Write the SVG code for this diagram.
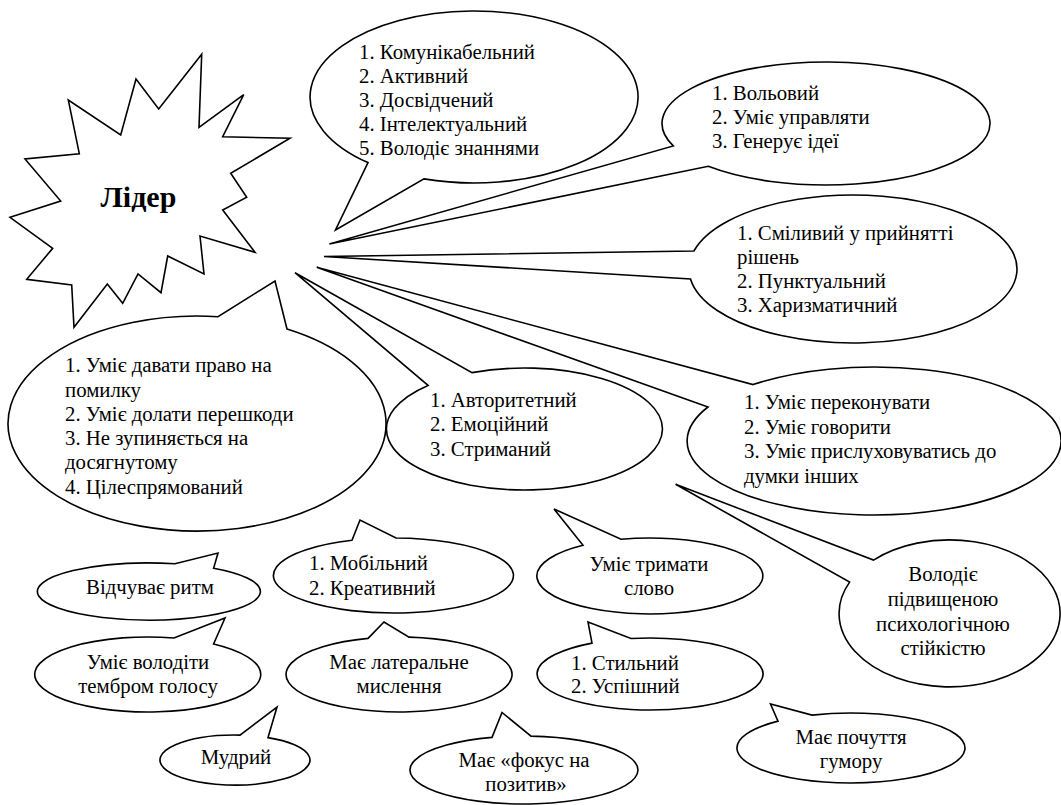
<svg xmlns="http://www.w3.org/2000/svg" width="1061" height="805" viewBox="0 0 1061 805">
<style>
.s{fill:#fff;stroke:#000;stroke-width:1.6;stroke-linejoin:miter}
</style>
<rect width="1061" height="805" fill="#fff"/>
<g id="connectors"></g>
<g id="leader">
<polygon class="s" points="201.7,54.3 199,127.3 243.7,94.7 222.7,136.7 290,138.3 230.7,173.3 246.7,197.3 222.7,210 255,252.3 200,236 204,274 167.7,256 161,292.7 138,274 122.7,303.3 107.3,284 74,327.3 71.7,285 26.7,279.3 52.7,248.3 10,217.3 60.7,201 25,159 79.3,153.7 68.3,100 120.7,135 136,79 158.7,109"/>
<text x="100.5" y="207" font-family="Times New Roman, Liberation Serif, serif" font-size="30" font-weight="bold">Лідер</text>
</g>
<g id="n1" font-family="Times New Roman, Liberation Serif, serif" font-size="20.8">
<path class="s" d="M424,178.9 A164,86 0 1 0 368,162.6 L335.5,230 Z"/>
<text x="359" y="59">1. Комунікабельний</text>
<text x="359" y="83">2. Активний</text>
<text x="359" y="107">3. Досвідчений</text>
<text x="359" y="131">4. Інтелектуальний</text>
<text x="359" y="155">5. Володіє знаннями</text>
</g>
<g id="n2" font-family="Times New Roman, Liberation Serif, serif" font-size="20.8">
<path class="s" d="M708.3,166.3 A164,61.5 0 1 0 673.3,145.9 L329.3,244 Z"/>
<text x="712" y="100">1. Вольовий</text>
<text x="712" y="124">2. Уміє управляти</text>
<text x="712" y="148">3. Генерує ідеї</text>
</g>
<g id="n3" font-family="Times New Roman, Liberation Serif, serif" font-size="20.8">
<path class="s" d="M690.5,279 A164,74 0 1 0 693.9,251 L324,256.5 Z"/>
<text x="737" y="240">1. Сміливий у прийнятті</text>
<text x="737" y="264">рішень</text>
<text x="737" y="288">2. Пунктуальний</text>
<text x="737" y="312">3. Харизматичний</text>
</g>
<g id="n4" font-family="Times New Roman, Liberation Serif, serif" font-size="20.8">
<path class="s" d="M708,407 A187,74 0 1 0 753,384.6 L316.7,267.3 Z"/>
<text x="744" y="409">1. Уміє переконувати</text>
<text x="744" y="433.5">2. Уміє говорити</text>
<text x="744" y="458">3. Уміє прислуховуватись до</text>
<text x="744" y="482.5">думки інших</text>
</g>
<g id="n6" font-family="Times New Roman, Liberation Serif, serif" font-size="20.8">
<path class="s" d="M287,329 A189,107.5 0 1 1 218,316.7 L275,281 Z"/>
<text x="65" y="372">1. Уміє давати право на</text>
<text x="65" y="396.5">помилку</text>
<text x="65" y="420.5">2. Уміє долати перешкоди</text>
<text x="65" y="444.5">3. Не зупиняється на</text>
<text x="65" y="469">досягнутому</text>
<text x="65" y="494">4. Цілеспрямований</text>
</g>
<g id="n5" font-family="Times New Roman, Liberation Serif, serif" font-size="20.8">
<path class="s" d="M428,385.4 A138,61 0 1 0 472,372.6 L295,272.7 Z"/>
<text x="430" y="407">1. Авторитетний</text>
<text x="430" y="431">2. Емоційний</text>
<text x="430" y="455.5">3. Стриманий</text>
</g>
<g id="n7" font-family="Times New Roman, Liberation Serif, serif" font-size="20.8" text-anchor="middle">
<path class="s" d="M849.6,582.1 A110.5,73.5 0 1 0 873.5,560.1 L675.6,484.3 Z"/>
<text x="943" y="581">Володіє</text>
<text x="943" y="606">підвищеною</text>
<text x="943" y="630.5">психологічною</text>
<text x="943" y="654.5">стійкістю</text>
</g>
<g id="n8" font-family="Times New Roman, Liberation Serif, serif" font-size="20.8" text-anchor="middle">
<path class="s" d="M583,545.3 A113,38 0 1 0 621,539.2 L554,509 Z"/>
<text x="649" y="571">Уміє тримати</text>
<text x="649" y="595">слово</text>
</g>
<g id="n9" font-family="Times New Roman, Liberation Serif, serif" font-size="20.8">
<path class="s" d="M352,540.3 A120,37.5 0 1 0 396,538 L360,520 Z"/>
<text x="309" y="570">1. Мобільний</text>
<text x="309" y="595">2. Креативний</text>
</g>
<g id="n10" font-family="Times New Roman, Liberation Serif, serif" font-size="20.8" text-anchor="middle">
<path class="s" d="M213.6,568.3 A111.5,28.5 0 1 1 175,563.8 L218,553 Z"/>
<text x="150" y="593.5">Відчуває ритм</text>
</g>
<g id="n11" font-family="Times New Roman, Liberation Serif, serif" font-size="20.8" text-anchor="middle">
<path class="s" d="M213.6,644 A113,37.5 0 1 1 174,638 L225,618 Z"/>
<text x="148" y="669">Уміє володіти</text>
<text x="148" y="693">тембром голосу</text>
</g>
<g id="n12" font-family="Times New Roman, Liberation Serif, serif" font-size="20.8" text-anchor="middle">
<path class="s" d="M268,737.6 A75,25 0 1 1 240,735.1 L277,707 Z"/>
<text x="236" y="764">Мудрий</text>
</g>
<g id="n13" font-family="Times New Roman, Liberation Serif, serif" font-size="20.8" text-anchor="middle">
<path class="s" d="M368,638.4 A113,37.5 0 1 0 409,637.1 L384,622 Z"/>
<text x="399" y="669">Має латеральне</text>
<text x="399" y="693">мислення</text>
</g>
<g id="n14" font-family="Times New Roman, Liberation Serif, serif" font-size="20.8">
<path class="s" d="M592,643.1 A113,36 0 1 0 631,638.5 L588,622 Z"/>
<text x="571" y="669.5">1. Стильний</text>
<text x="571" y="693">2. Успішний</text>
</g>
<g id="n15" font-family="Times New Roman, Liberation Serif, serif" font-size="20.8" text-anchor="middle">
<path class="s" d="M492,737.4 A114,34 0 1 0 531,736.1 L502,712.5 Z"/>
<text x="524" y="766.5">Має «фокус на</text>
<text x="526" y="790.5">позитив»</text>
</g>
<g id="n16" font-family="Times New Roman, Liberation Serif, serif" font-size="20.8" text-anchor="middle">
<path class="s" d="M778,721.1 A114,35 0 1 0 812,715.1 L770.5,704 Z"/>
<text x="851" y="743.5">Має почуття</text>
<text x="851" y="768">гумору</text>
</g>
</svg>
